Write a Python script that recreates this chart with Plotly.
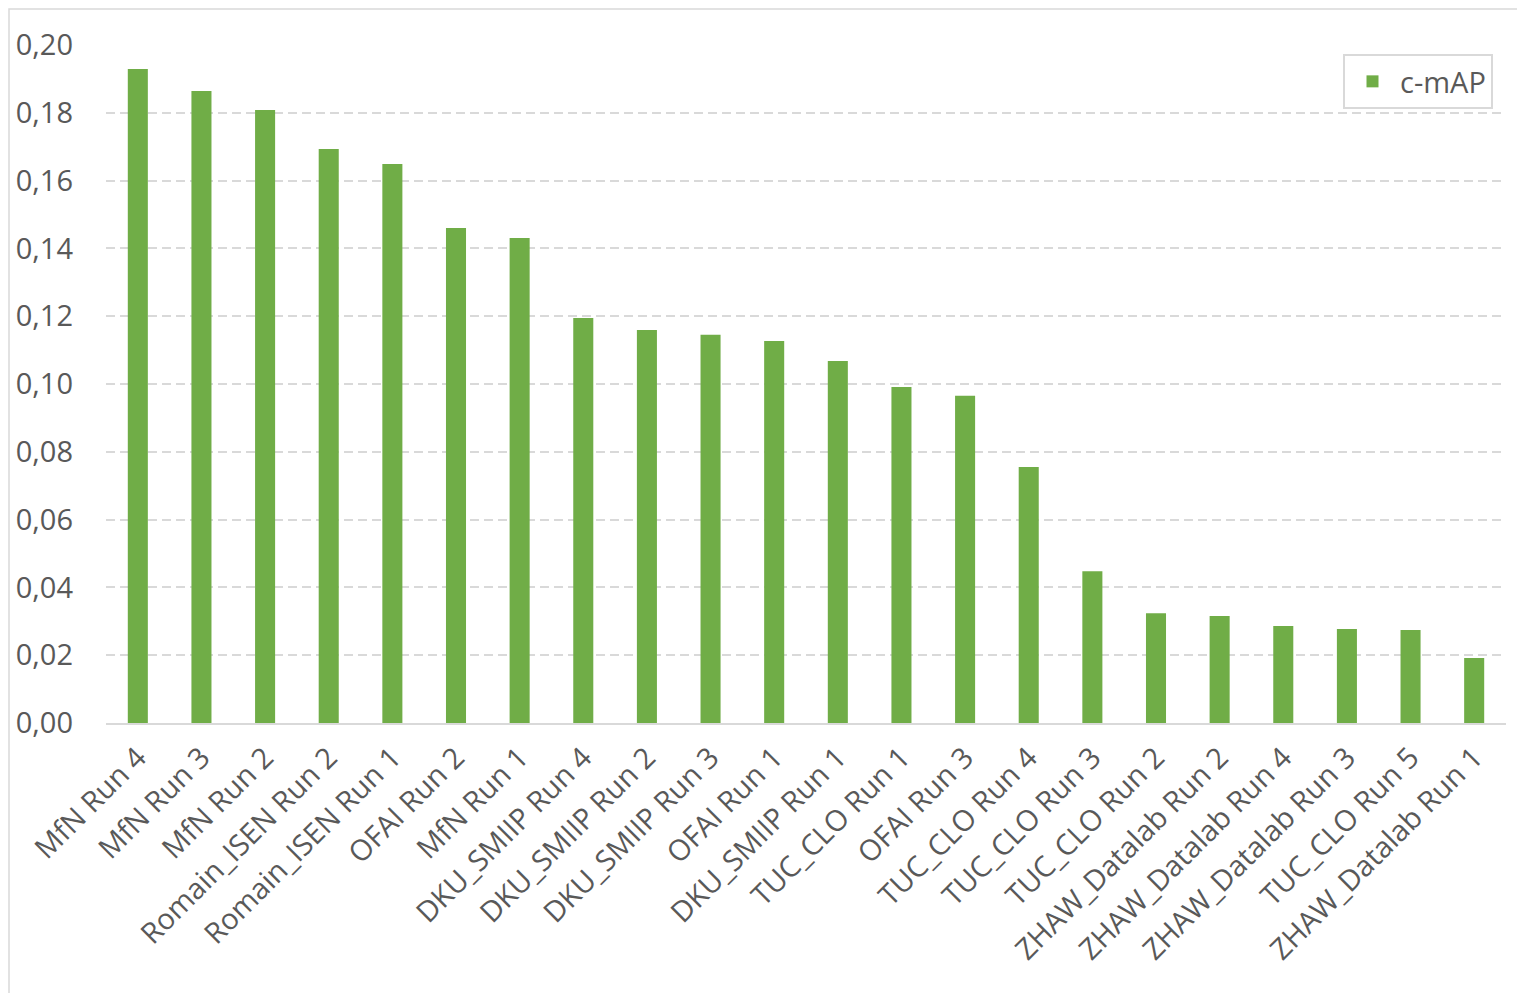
import plotly.graph_objects as go

categories = ["MfN Run 4", "MfN Run 3", "MfN Run 2", "Romain_ISEN Run 2", "Romain_ISEN Run 1",
              "OFAI Run 2", "MfN Run 1", "DKU_SMIIP Run 4", "DKU_SMIIP Run 2", "DKU_SMIIP Run 3",
              "OFAI Run 1", "DKU_SMIIP Run 1", "TUC_CLO Run 1", "OFAI Run 3", "TUC_CLO Run 4",
              "TUC_CLO Run 3", "TUC_CLO Run 2", "ZHAW_Datalab Run 2", "ZHAW_Datalab Run 4",
              "ZHAW_Datalab Run 3", "TUC_CLO Run 5", "ZHAW_Datalab Run 1"]
cmap = [0.1929, 0.1864, 0.1808, 0.1693, 0.1649, 0.1460, 0.1431, 0.1195, 0.1159, 0.1145,
        0.1127, 0.1068, 0.0991, 0.0965, 0.0755, 0.0448, 0.0324, 0.0316, 0.0286, 0.0277,
        0.0274, 0.0192]
y_ticks = [0.00, 0.02, 0.04, 0.06, 0.08, 0.10, 0.12, 0.14, 0.16, 0.18, 0.20]

# page has an 8px body margin; plot area in page coords: x 106..1506, y 45..723
W, H = 1517, 985
ml, mt = 98, 37
pw, ph = 1400, 678
mr = W - ml - pw
mb = H - mt - ph

fig = go.Figure()
fig.add_trace(go.Bar(x=categories, y=cmap, name="c-mAP", marker_color="#70AD47",
                     marker_line_width=0, showlegend=True))

font_family = "Open Sans"
fs = 29
fig.update_layout(
    width=W, height=H,
    margin=dict(l=ml, r=mr, t=mt, b=mb, autoexpand=False),
    paper_bgcolor="white", plot_bgcolor="white",
    separators=",.",
    bargap=0.685,
    font=dict(family=font_family, color="#595959", size=fs),
    xaxis=dict(tickangle=-45, tickfont=dict(size=fs, color="#595959"),
               showline=True, linecolor="#d9d9d9", linewidth=2, ticks="",
               showgrid=False, ticklabelstandoff=4, automargin=False),
    yaxis=dict(range=[0, 0.20], tickvals=y_ticks, tickformat=".2f",
               tickfont=dict(size=fs, color="#595959"),
               showgrid=True, gridcolor="#d9d9d9", gridwidth=1.5, griddash="9px,5px",
               zeroline=False, showline=False, ticks="", ticklabelstandoff=32,
               automargin=False),
    legend=dict(x=(1493 - 106) / pw, y=(723 - 54) / ph, xanchor="right", yanchor="top",
                bordercolor="#d9d9d9", borderwidth=2, bgcolor="white",
                font=dict(size=fs, color="#595959"), itemwidth=45),
    shapes=[dict(type="rect", xref="paper", yref="paper",
                 x0=-(ml - 1) / pw, x1=1 + (mr - 3) / pw,
                 y0=-(mb + 5) / ph, y1=1 + (mt - 1) / ph,
                 line=dict(color="#d9d9d9", width=1.5), layer="below")],
)

fig.write_html("out.html")
